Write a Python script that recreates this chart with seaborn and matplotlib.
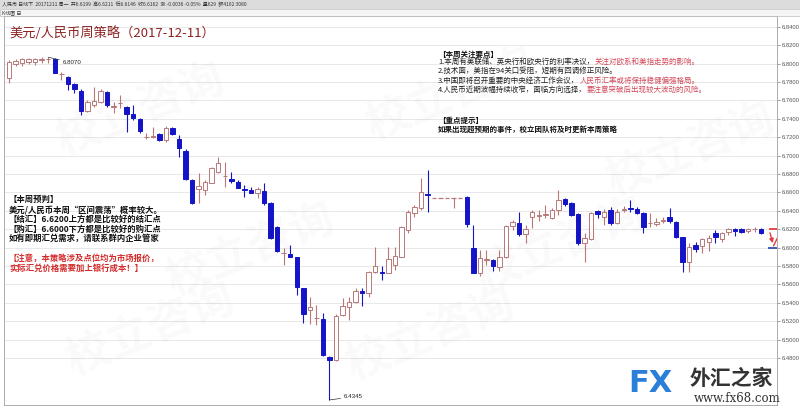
import numpy as np
import pandas as pd
import matplotlib
matplotlib.use("Agg")
import matplotlib.pyplot as plt
from matplotlib.patches import Rectangle
import seaborn as sns

# ---------------- data ----------------
opens = [6.7841, 6.7997, 6.8004, 6.8022, 6.8019, 6.8045, 6.8048, 6.8051, 6.7886, 6.7859,
         6.7776, 6.7707, 6.7490, 6.7551, 6.7587, 6.7696, 6.7533, 6.7569, 6.7526, 6.7453,
         6.7395, 6.7200, 6.7207, 6.7236, 6.7171, 6.7297, 6.7178, 6.7055, 6.6736, 6.6634,
         6.6627, 6.6707, 6.6826, 6.6775, 6.6747, 6.6718, 6.6634, 6.6627, 6.6598, 6.6620,
         6.6490, 6.6229, 6.5939, 6.5932, 6.5895, 6.5558, 6.5323, 6.5232, 6.5225, 6.4816,
         6.4779, 6.5268, 6.5359, 6.5413, 6.5530, 6.5504, 6.5740, 6.5740, 6.5729, 6.5812,
         6.5903, 6.6192, 6.6374, 6.6428, 6.6587, 6.6544, 6.6544, 6.6544, 6.6544, 6.6544,
         6.6555, 6.5993, 6.5729, 6.5870, 6.5866, 6.5794, 6.5903, 6.6236, 6.6272, 6.6149,
         6.6337, 6.6348, 6.6355, 6.6319, 6.6410, 6.6529, 6.6482, 6.6366, 6.6055, 6.6091,
         6.6403, 6.6337, 6.6410, 6.6265, 6.6410, 6.6428, 6.6417, 6.6374, 6.6265, 6.6254,
         6.6294, 6.6330, 6.6283, 6.6113, 6.5848, 6.6029, 6.6018, 6.6066, 6.6156, 6.6091,
         6.6174, 6.6207, 6.6200, 6.6185, 6.6200, 6.6199]
highs = [6.8040, 6.8047, 6.8058, 6.8065, 6.8066, 6.8068, 6.8070, 6.8058, 6.7913, 6.7870,
         6.7787, 6.7721, 6.7605, 6.7750, 6.7721, 6.7703, 6.7587, 6.7660, 6.7540, 6.7551,
         6.7406, 6.7243, 6.7308, 6.7243, 6.7323, 6.7308, 6.7225, 6.7069, 6.6743, 6.6808,
         6.6736, 6.6881, 6.6990, 6.6935, 6.6826, 6.6736, 6.6682, 6.6663, 6.6663, 6.6700,
         6.6500, 6.6236, 6.5993, 6.6029, 6.5903, 6.5565, 6.5468, 6.5377, 6.5287, 6.4823,
         6.5279, 6.5450, 6.5468, 6.5558, 6.5558, 6.5750, 6.6011, 6.5801, 6.6011, 6.6004,
         6.6236, 6.6410, 6.6464, 6.6754, 6.6845, 6.6544, 6.6544, 6.6544, 6.6544, 6.6544,
         6.6562, 6.6247, 6.5975, 6.5975, 6.5874, 6.5975, 6.6247, 6.6301, 6.6392, 6.6247,
         6.6410, 6.6410, 6.6464, 6.6428, 6.6627, 6.6537, 6.6493, 6.6381, 6.6156, 6.6392,
         6.6410, 6.6417, 6.6446, 6.6417, 6.6453, 6.6519, 6.6439, 6.6392, 6.6374, 6.6319,
         6.6330, 6.6428, 6.6294, 6.6120, 6.6048, 6.6066, 6.6102, 6.6138, 6.6192, 6.6174,
         6.6211, 6.6214, 6.6211, 6.6211, 6.6221, 6.6211]
lows = [6.7794, 6.7975, 6.7975, 6.7997, 6.7986, 6.8010, 6.8005, 6.7895, 6.7823, 6.7714,
        6.7678, 6.7442, 6.7479, 6.7533, 6.7569, 6.7533, 6.7461, 6.7515, 6.7261, 6.7388,
        6.7243, 6.7182, 6.7189, 6.7163, 6.7152, 6.7225, 6.6982, 6.6736, 6.6475, 6.6482,
        6.6573, 6.6700, 6.6808, 6.6663, 6.6700, 6.6645, 6.6548, 6.6591, 6.6537, 6.6464,
        6.6095, 6.5957, 6.5812, 6.5895, 6.5486, 6.5185, 6.5171, 6.5160, 6.4823, 6.4345,
        6.4772, 6.5258, 6.5214, 6.5395, 6.5370, 6.5468, 6.5721, 6.5649, 6.5721, 6.5758,
        6.5896, 6.6156, 6.6337, 6.6410, 6.6392, 6.6544, 6.6544, 6.6544, 6.6428, 6.6544,
        6.6229, 6.5722, 6.5692, 6.5812, 6.5750, 6.5750, 6.5884, 6.6192, 6.6127, 6.6055,
        6.6211, 6.6294, 6.6319, 6.6308, 6.6355, 6.6453, 6.6344, 6.6029, 6.5848, 6.6084,
        6.6319, 6.6247, 6.6247, 6.6258, 6.6392, 6.6392, 6.6363, 6.6156, 6.6229, 6.6240,
        6.6265, 6.6272, 6.6102, 6.5740, 6.5740, 6.5957, 6.5939, 6.5968, 6.6055, 6.6066,
        6.6138, 6.6127, 6.6156, 6.6163, 6.6170, 6.6146]
closes = [6.8022, 6.8029, 6.8047, 6.8047, 6.8050, 6.8050, 6.8052, 6.7903, 6.7888, 6.7779,
          6.7721, 6.7490, 6.7587, 6.7595, 6.7703, 6.7551, 6.7540, 6.7576, 6.7450, 6.7413,
          6.7272, 6.7207, 6.7214, 6.7171, 6.7297, 6.7236, 6.7080, 6.6743, 6.6482, 6.6671,
          6.6718, 6.6863, 6.6924, 6.6776, 6.6729, 6.6653, 6.6627, 6.6598, 6.6634, 6.6490,
          6.6102, 6.5968, 6.5946, 6.5903, 6.5569, 6.5279, 6.5359, 6.5239, 6.4834, 6.4779,
          6.5258, 6.5366, 6.5413, 6.5533, 6.5511, 6.5740, 6.5805, 6.5721, 6.5874, 6.5910,
          6.6229, 6.6392, 6.6446, 6.6609, 6.6573, 6.6544, 6.6544, 6.6544, 6.6544, 6.6544,
          6.6258, 6.5729, 6.5884, 6.5877, 6.5801, 6.5903, 6.6236, 6.6283, 6.6149, 6.6200,
          6.6392, 6.6355, 6.6366, 6.6410, 6.6519, 6.6471, 6.6355, 6.6055, 6.6102, 6.6374,
          6.6366, 6.6392, 6.6272, 6.6392, 6.6417, 6.6417, 6.6374, 6.6229, 6.6272, 6.6283,
          6.6301, 6.6294, 6.6120, 6.5848, 6.6011, 6.5982, 6.6091, 6.6102, 6.6113, 6.6156,
          6.6200, 6.6185, 6.6174, 6.6200, 6.6203, 6.6162]

y_ticks = [6.48, 6.50, 6.52, 6.54, 6.56, 6.58, 6.60, 6.62, 6.64, 6.66,
           6.68, 6.70, 6.72, 6.74, 6.76, 6.78, 6.80, 6.82, 6.84]
high_mark = 6.8070
low_mark = 6.4345
sell_level = 6.62
buy_level = 6.60

df = pd.DataFrame({"open": opens, "high": highs, "low": lows, "close": closes})
df["i"] = np.arange(len(df))

# ---------------- style ----------------
sns.set_theme(style="white")
plt.rcParams["font.family"] = ["Noto Sans CJK SC", "DejaVu Sans"]

W, H = 800, 409
fig = plt.figure(figsize=(8, 4.09), dpi=100)
fig.patch.set_facecolor("white")

def fx(x):
    return x / W

def fy(y):
    return 1 - y / H

ax = fig.add_axes([fx(4), 4 / H, 773 / W, 389 / H])
ax.set_facecolor("white")

UP = "#b87878"
DN = "#1414c8"
bw = 0.68

for r in df.itertuples():
    up = r.close >= r.open
    col = UP if up else DN
    ax.vlines(r.i, r.low, r.high, color=col, lw=0.8, zorder=2)
    lo = min(r.open, r.close)
    hgt = abs(r.close - r.open)
    if hgt < 1e-6:
        ax.hlines(r.open, r.i - bw / 2, r.i + bw / 2, color=UP, lw=0.9, zorder=3)
    else:
        ax.bar(r.i, hgt, bottom=lo, width=bw,
               color="white" if up else DN, edgecolor=col, linewidth=0.7, zorder=3)

ax.set_xlim(-0.76, 117.43)
ax.set_ylim(6.4290, 6.8518)
ax.set_xticks([])
ax.yaxis.tick_right()
ax.set_yticks(y_ticks)
ax.set_yticklabels([f"{v:.4f}" for v in y_ticks], fontsize=4.2, color="#555555",
                   family="Liberation Sans")
ax.tick_params(axis="y", length=2, width=0.5, pad=1.5, colors="#777777", labelcolor="#555555")
ax.grid(axis="y", color="#e4e4e4", lw=0.6, zorder=0)
for s in ax.spines.values():
    s.set_color("#a0a0a0")
    s.set_linewidth(0.6)

# strategy levels with arrow
n = len(df)
ax.hlines(sell_level, n + 0.2, 117.43, color="#e04040", lw=1.3, zorder=4)
ax.hlines(buy_level, n, 117.43, color="#3050b0", lw=1.3, zorder=4)
ax.annotate("", xy=(n + 0.9, buy_level + 0.002), xytext=(n + 0.25, sell_level - 0.001),
            arrowprops=dict(arrowstyle="-|>", color="#e04040", lw=1.0, mutation_scale=6),
            zorder=5)
ax.plot([n + 0.9, n + 1.6], [buy_level + 0.002, sell_level - 0.008], color="#e04040", lw=1.0, zorder=5)

# extreme labels
ax.annotate(f"{high_mark:.4f}", xy=(6, high_mark), xytext=(8.2, high_mark - 0.006),
            fontsize=4.4, color="#222222", family="Liberation Sans", va="center",
            arrowprops=dict(arrowstyle="-", color="#333333", lw=0.5, shrinkA=0, shrinkB=0))
ax.annotate(f"{low_mark:.4f}", xy=(49, low_mark), xytext=(51.2, low_mark + 0.0035),
            fontsize=4.4, color="#222222", family="Liberation Sans", va="center",
            arrowprops=dict(arrowstyle="-", color="#333333", lw=0.5, shrinkA=0, shrinkB=0))

# watermarks
for (wx, wy) in [(140, 110), (450, 95), (250, 250), (560, 245), (150, 330), (430, 335), (690, 150)]:
    fig.text(fx(wx), fy(wy), "校立咨询", fontsize=32, color="#000000", alpha=0.022,
             rotation=22, ha="center", va="center", fontweight="bold")

# header bars
fig.patches.append(Rectangle((0, fy(9)), 1, 9 / H, transform=fig.transFigure,
                             facecolor="#dcdcdc", edgecolor="none", zorder=0))
fig.patches.append(Rectangle((0, fy(16)), 1, 7 / H, transform=fig.transFigure,
                             facecolor="#f4f4f4", edgecolor="#b0b0b0", lw=0.4, zorder=0))
fig.text(fx(2), fy(4.5), "人民币 日线下  20171211 周一  开6.6199  高6.6211  低6.6146  收6.6162  涨 -0.0036 -0.05%  量629  额4162 3080",
         fontsize=3.6, color="#333333", va="center")
fig.text(fx(2), fy(12.5), "K线图 日", fontsize=3.6, color="#333333", va="center")

# title
fig.text(fx(9), fy(33), "美元/人民币周策略（2017-12-11）", fontsize=9.5, color="#8e2323",
         va="center", fontweight="medium")

# top-right notes
RED = "#d2485a"
fs = 5.4
fig.text(fx(438), fy(54), "【本周关注要点】", fontsize=fs, color="#111111", va="center", fontweight="bold")
lines = [("1.本周有美联储、英央行和欧央行的利率决议，", "关注对欧系和美指走势的影响。", 64),
         ("2.技术面，美指在94关口受阻，短期有回调修正风险。", "", 73.3),
         ("3.中国即将召开重要的中央经济工作会议，", "人民币汇率或将保持稳健偏强格局。", 82.7),
         ("4.人民币近期波幅持续收窄，面临方向选择，", "要注意突破后出现较大波动的风险。", 92)]
for a, b, yy in lines:
    t = fig.text(fx(438), fy(yy), a, fontsize=fs, color="#222222", va="baseline")
    if b:
        ax.annotate(b, xy=(1, 0), xycoords=t, fontsize=fs, color=RED, va="bottom",
                    ha="left", annotation_clip=False)
fig.text(fx(438), fy(120), "【重点提示】", fontsize=fs, color="#111111", va="center", fontweight="bold")
fig.text(fx(438), fy(129.5), "如果出现超预期的事件，校立团队将及时更新本周策略", fontsize=fs,
         color="#111111", va="center", fontweight="bold")

# left notes
fl = 6.0
left_lines = [("【本周预判】", 199, "#111111"),
              ("美元/人民币本周“区间震荡”概率较大。", 210, "#111111"),
              ("【结汇】6.6200上方都是比较好的结汇点", 219.5, "#111111"),
              ("【购汇】6.6000下方都是比较好的购汇点", 229, "#111111"),
              ("如有即期汇兑需求，请联系群内企业管家", 238.5, "#111111"),
              ("【注意，本策略涉及点位均为市场报价，", 258, "#d42a2a"),
              ("实际汇兑价格需要加上银行成本！】", 268, "#d42a2a")]
for s, yy, c in left_lines:
    fig.text(fx(9), fy(yy), s, fontsize=fl, color=c, va="center", fontweight="bold")

# FX logo
fig.text(fx(628), fy(384), "FX", fontsize=22, color="#2a7fd8", va="center", fontweight="bold",
         family="DejaVu Sans")
fig.text(fx(690), fy(378), "外汇之家", fontsize=15, color="#333333", va="center", fontweight="bold")
fig.text(fx(694), fy(399), "www.fx68.com", fontsize=8.5, color="#333333", va="center",
         family="DejaVu Serif")

fig.savefig("out.png", dpi=100, facecolor="white")
